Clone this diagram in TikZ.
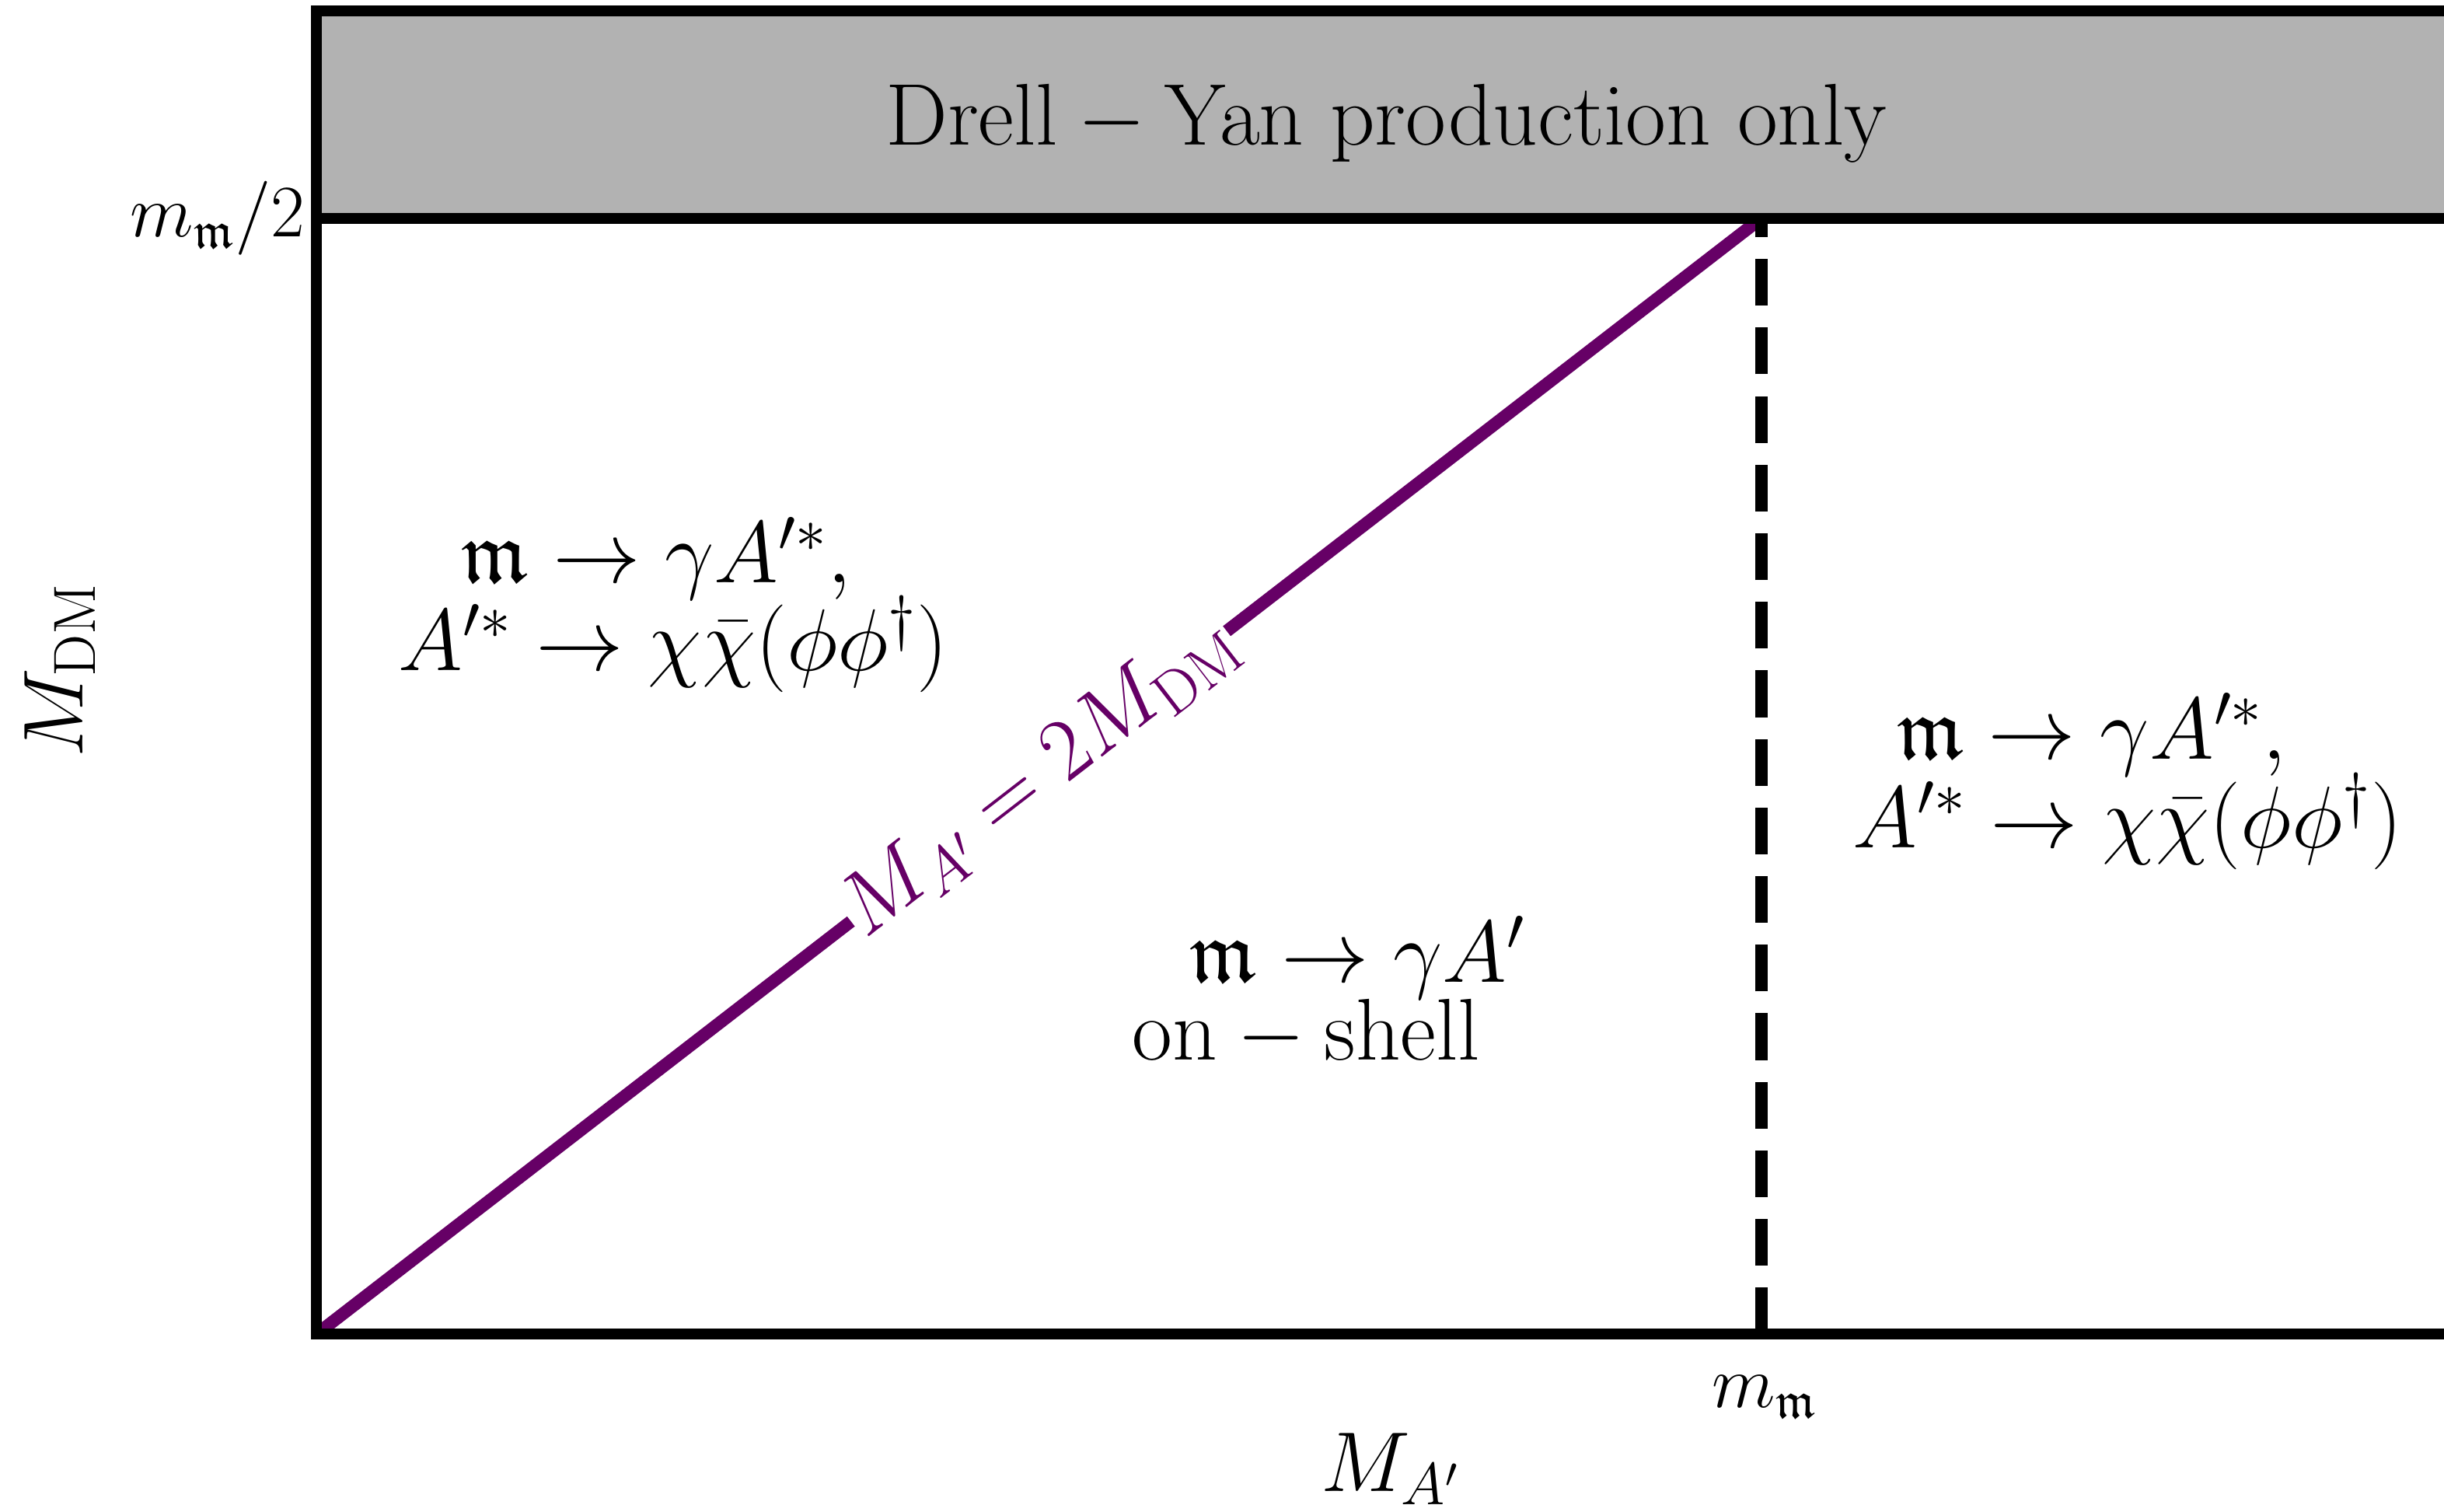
\RequirePackage{fix-cm}
\documentclass[tikz,border=0pt]{standalone}
\usepackage{amssymb}
\definecolor{dmpurple}{RGB}{102,0,102}
\definecolor{bandgray}{RGB}{178,178,178}
\begin{document}
\begin{tikzpicture}[x=0.02cm,y=-0.02cm,
  frameline/.style={line width=4pt},
  dashline/.style={line width=4.5pt, dash pattern=on 0.6cm off 0.28cm},
  thresh/.style={dmpurple, line width=4.6pt},
  lbl/.style={font=\fontsize{32}{38}\selectfont, inner sep=0pt},
  axlbl/.style={font=\fontsize{31}{37}\selectfont, inner sep=0pt},
  ticklbl/.style={font=\fontsize{27}{32}\selectfont, inner sep=0pt}]
\useasboundingbox (0,0) rectangle (1568,970);
\coordinate (O) at (203,856);
\coordinate (TL) at (203,7);
\coordinate (TR) at (1590,7);
\coordinate (BL) at (203,140);
\coordinate (BR) at (1590,140);
\coordinate (XR) at (1590,856);
\coordinate (P) at (1130,140);
\coordinate (Q) at (1130,856);
\fill[bandgray] (TL) rectangle (BR);
\draw[thresh] (O) -- node[sloped, fill=white, inner xsep=3pt, inner ysep=0pt, lbl, text=dmpurple] (thr) {$M_{A'}=2M_{\mathrm{DM}}$} (P);
\draw[dashline] (Q) -- (P);
\draw[frameline] (TR) -- (TL) -- (O) -- (XR);
\draw[frameline] (BL) -- (BR);
\node[lbl, anchor=base] (drell) at (890,93) {$\mathrm{Drell-Yan\ production\ only}$};
\node[lbl, anchor=base] (l1) at (421,374) {$\mathfrak{m}\rightarrow\gamma A'^{*},$};
\node[lbl, anchor=base] (l2) at (432,430) {$A'^{*}\rightarrow\chi\bar{\chi}(\phi\phi^{\dagger})$};
\node[lbl, anchor=base] (c1) at (871,630) {$\mathfrak{m}\rightarrow\gamma A'$};
\node[lbl, anchor=base] (c2) at (838,680) {$\mathrm{on-shell}$};
\node[lbl, anchor=base] (r1) at (1342,487) {$\mathfrak{m}\rightarrow\gamma A'^{*},$};
\node[lbl, anchor=base] (r2) at (1365,544) {$A'^{*}\rightarrow\chi\bar{\chi}(\phi\phi^{\dagger})$};
\node[ticklbl, anchor=base east] (ytick) at (196,152) {$m_{\mathfrak{m}}/2$};
\node[ticklbl, anchor=base] (xtick) at (1132,903) {$m_{\mathfrak{m}}$};
\node[axlbl, anchor=base] (xlab) at (892,957) {$M_{A'}$};
\node[axlbl, anchor=base, rotate=90] (ylab) at (53,430) {$M_{\mathrm{DM}}$};
\end{tikzpicture}
\end{document}
